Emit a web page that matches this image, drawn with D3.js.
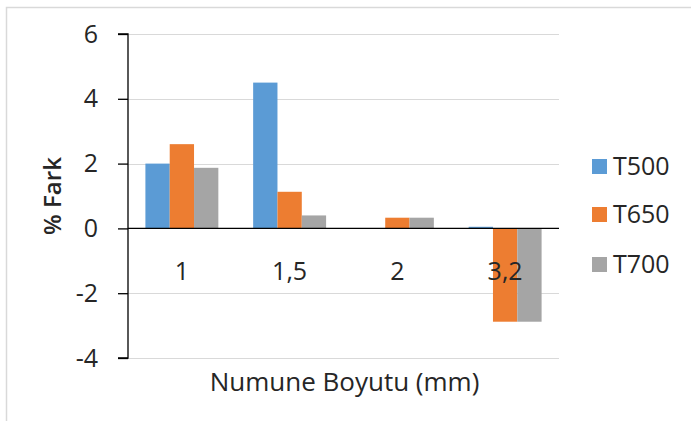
<!DOCTYPE html>
<html>
<head>
<meta charset="utf-8">
<script src="https://cdn.jsdelivr.net/npm/d3@7"></script>
<style>
  html, body { margin: 0; padding: 0; background: #fff; }
  svg { display: block; }
  text { font-family: "Open Sans", Lato, sans-serif; fill: #262626; }
</style>
</head>
<body>
<svg id="chart" width="691" height="421"></svg>
<script>
const categories = ["1", "1,5", "2", "3,2"];
const seriesNames = ["T500", "T650", "T700"];
const T500 = [2.0, 4.5, 0, 0.05];
const T650 = [2.6, 1.13, 0.33, -2.88];
const T700 = [1.87, 0.4, 0.33, -2.88];
const yTicks = [-4, -2, 0, 2, 4, 6];
const colors = ["#5B9BD5", "#ED7D31", "#A5A5A5"];
const seriesValues = [T500, T650, T700];

const svg = d3.select("#chart");

// chart border
svg.append("path")
  .attr("d", "M6.5,421 L6.5,7.5 L691,7.5")
  .attr("fill", "none").attr("stroke", "#d9d9d9").attr("stroke-width", 1.5);

const plot = { left: 128, right: 559, top: 34, bottom: 358 };

const y = d3.scaleLinear().domain([-4, 6]).range([plot.bottom, plot.top]);
const x0 = d3.scaleBand().domain(categories).range([plot.left, plot.right])
  .paddingInner(0.323).paddingOuter(0.1615);
const x1 = d3.scaleBand().domain(seriesNames).range([0, x0.bandwidth()]);

// gridlines
svg.append("g").selectAll("line")
  .data(yTicks.filter(d => d !== 0))
  .join("line")
  .attr("x1", plot.left).attr("x2", plot.right)
  .attr("y1", d => Math.round(y(d)) + 0.5).attr("y2", d => Math.round(y(d)) + 0.5)
  .attr("stroke", "#d9d9d9").attr("stroke-width", 1.2);

// bars
const data = [];
categories.forEach((c, i) => {
  seriesNames.forEach((s, j) => {
    data.push({ cat: c, series: s, value: seriesValues[j][i], color: colors[j] });
  });
});
svg.append("g").selectAll("rect")
  .data(data)
  .join("rect")
  .attr("x", d => x0(d.cat) + x1(d.series))
  .attr("width", x1.bandwidth())
  .attr("y", d => y(Math.max(0, d.value)))
  .attr("height", d => Math.abs(y(d.value) - y(0)))
  .attr("fill", d => d.color);

// zero line
svg.append("line")
  .attr("x1", plot.left).attr("x2", plot.right)
  .attr("y1", y(0)).attr("y2", y(0))
  .attr("stroke", "#000").attr("stroke-width", 1.3);

// y axis
const yAxis = d3.axisLeft(y).tickValues(yTicks).tickSize(10).tickPadding(20)
  .tickFormat(d => d);
const gy = svg.append("g").attr("transform", `translate(${plot.left},0)`).call(yAxis);
gy.select(".domain").attr("stroke", "#000").attr("stroke-width", 1.3)
  .attr("d", `M-10,${y(6)}H0V${y(-4)}H-10`);
gy.selectAll(".tick line").attr("stroke", "#000").attr("stroke-width", 1.3);
gy.selectAll(".tick text")
  .style("font-family", "'Open Sans', Lato, sans-serif")
  .style("font-size", "25px").attr("fill", "#262626");

// category labels
svg.append("g").selectAll("text")
  .data(categories)
  .join("text")
  .attr("x", d => x0(d) + x0.bandwidth() / 2)
  .attr("y", 280)
  .attr("text-anchor", "middle")
  .style("font-size", "25px")
  .text(d => d);

// axis titles
svg.append("text")
  .attr("x", (plot.left + plot.right) / 2 + 1)
  .attr("y", 391)
  .attr("text-anchor", "middle")
  .style("font-size", "26px")
  .text("Numune Boyutu (mm)");

svg.append("text")
  .attr("transform", "translate(61,196) rotate(-90)")
  .attr("text-anchor", "middle")
  .style("font-size", "24px")
  .style("font-weight", "600")
  .text("% Fark");

// legend
const legendY = [166, 214, 264];
const lg = svg.append("g").selectAll("g")
  .data(seriesNames)
  .join("g")
  .attr("transform", (d, i) => `translate(592,${legendY[i]})`);
lg.append("rect").attr("x", 0).attr("y", -7).attr("width", 15).attr("height", 15)
  .attr("fill", (d, i) => colors[i]);
lg.append("text").attr("x", 21).attr("y", 9)
  .style("font-size", "25px").text(d => d);
</script>
</body>
</html>
